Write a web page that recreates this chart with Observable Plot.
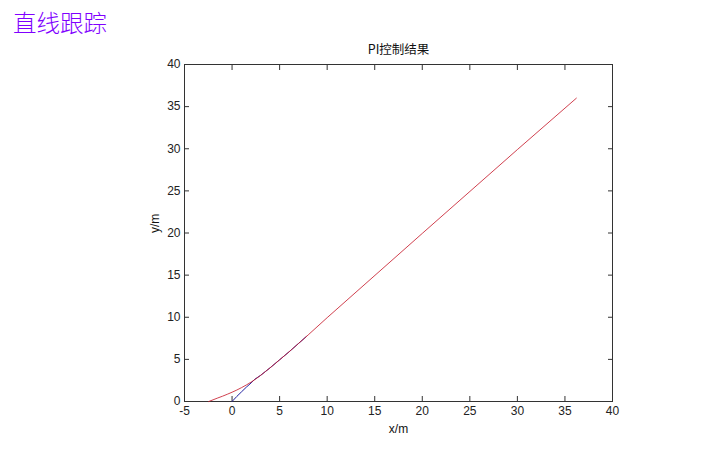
<!DOCTYPE html>
<html>
<head>
<meta charset="utf-8">
<script src="https://cdn.jsdelivr.net/npm/d3@7"></script>
<script src="https://cdn.jsdelivr.net/npm/@observablehq/plot@0.6"></script>
<style>
  body { margin: 0; background: #fff; }
  #wrap { position: relative; width: 724px; height: 457px; }
  #pagetitle { position: absolute; left: 13px; top: 6px; font-family: "Noto Sans CJK SC", sans-serif; font-size: 23.5px; font-weight: 300; color: #8000ff; line-height: 32px; }
  #chart { position: absolute; left: 0; top: 0; }
</style>
</head>
<body>
<div id="wrap">
  <div id="chart"></div>
  <div id="pagetitle">直线跟踪</div>
</div>
<script>
const pageTitle = "直线跟踪";
const chartTitle = "PI控制结果";
const xLabel = "x/m";
const yLabel = "y/m";
const xTicks = [-5, 0, 5, 10, 15, 20, 25, 30, 35, 40];
const yTicks = [0, 5, 10, 15, 20, 25, 30, 35, 40];

// reference path (red)
const refX = [-2.45, -2, -1.5, -1, -0.5, 0, 0.5, 1, 1.5, 2, 2.5, 3, 3.5, 4, 5, 6, 7, 8, 10, 20, 30, 36.2];
const refY = [0, 0.2, 0.42, 0.63, 0.86, 1.1, 1.36, 1.65, 1.96, 2.3, 2.68, 3.1, 3.55, 4.0, 4.95, 5.9, 6.9, 7.9, 9.95, 19.95, 29.9, 36];
// actual trajectory (blue)
const actX = [0, 0.5, 1, 1.5, 2, 2.4, 3, 3.5, 4, 5, 6, 7, 7.8];
const actY = [0, 0.6, 1.15, 1.7, 2.2, 2.65, 3.1, 3.55, 4.0, 4.95, 5.9, 6.9, 7.7];

const ref = refX.map((x, i) => ({x, y: refY[i]}));
const act = actX.map((x, i) => ({x, y: actY[i]}));

const font = "'Liberation Sans', Arial, sans-serif";
const axisColor = "#333";
const fmt = d => String(d); // hyphen-minus like the original

const chart = Plot.plot({
  width: 724,
  height: 457,
  marginLeft: 184,
  marginRight: 112,
  marginTop: 64,
  marginBottom: 56,
  style: {fontFamily: font, fontSize: "12px", color: "#222", background: "transparent"},
  x: {domain: [-5, 40]},
  y: {domain: [0, 40]},
  marks: [
    Plot.frame({stroke: axisColor}),
    Plot.axisX(xTicks, {anchor: "bottom", tickSize: -5, tickPadding: 10, tickFormat: fmt, stroke: axisColor, fontSize: 12, label: null}),
    Plot.axisX(xTicks, {anchor: "top", tickSize: -5, text: null, stroke: axisColor, label: null}),
    Plot.axisY(yTicks, {anchor: "left", tickSize: -5, tickPadding: 9, tickFormat: fmt, stroke: axisColor, fontSize: 12, label: null}),
    Plot.axisY(yTicks, {anchor: "right", tickSize: -5, text: null, stroke: axisColor, label: null}),
    Plot.line(act, {x: "x", y: "y", stroke: "#2020a0", strokeWidth: 1}),
    Plot.line(ref, {x: "x", y: "y", stroke: "#c82030", strokeWidth: 1, strokeOpacity: 0.85}),
    Plot.text([chartTitle], {frameAnchor: "top", dy: -19, fontSize: 12.5, fontFamily: "'Noto Sans CJK SC', sans-serif", fill: "#111"}),
    Plot.text([xLabel], {frameAnchor: "bottom", dy: 31, fontSize: 12, fill: "#111"}),
    Plot.text([yLabel], {frameAnchor: "left", dx: -29, rotate: -90, fontSize: 12, fill: "#111"})
  ]
});
document.getElementById("chart").appendChild(chart);
document.getElementById("pagetitle").textContent = pageTitle;
</script>
</body>
</html>
